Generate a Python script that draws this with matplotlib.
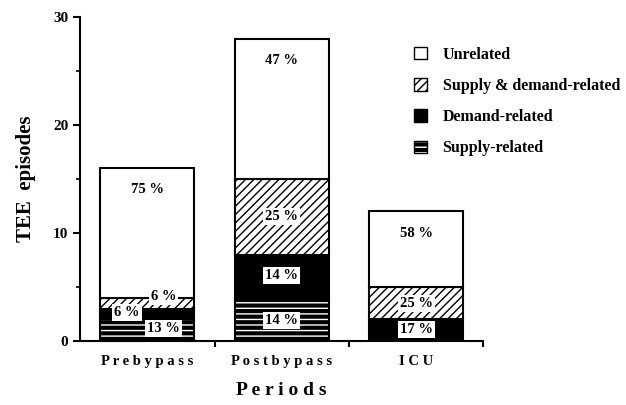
import matplotlib.pyplot as plt
from matplotlib.patches import Patch
from matplotlib.legend_handler import HandlerTuple
import numpy as np

# data (episode counts per period)
periods = ['Prebypass', 'Postbypass', 'ICU']
supply = [2, 4, 0]
demand = [1, 4, 2]
supply_demand = [1, 7, 3]
unrelated = [12, 13, 7]

supply_pct = ['13 %', '14 %', '']
demand_pct = ['6 %', '14 %', '17 %']
supply_demand_pct = ['6 %', '25 %', '25 %']
unrelated_pct = ['75 %', '47 %', '58 %']

plt.rcParams['font.family'] = ['Liberation Serif', 'DejaVu Serif']
plt.rcParams['font.weight'] = 'bold'
plt.rcParams['hatch.linewidth'] = 1.0

fig = plt.figure(figsize=(6.26, 4.05), dpi=100)
ax = fig.add_axes([0.128, 0.158, 0.644, 0.8])

x = np.arange(len(periods)) + 0.5
width = 0.7
box = dict(facecolor='white', edgecolor='none', pad=1.5)

b0 = np.zeros(3)
b1 = b0 + np.array(supply)
b2 = b1 + np.array(demand)
b3 = b2 + np.array(supply_demand)
top = b3 + np.array(unrelated)

# supply-related: black with white dashes
ax.bar(x, supply, width, bottom=b0, color='black', edgecolor='white',
       hatch='---', linewidth=0)
ax.bar(x, supply, width, bottom=b0, color='none', edgecolor='black', linewidth=1.5)
ax.bar(x, demand, width, bottom=b1, color='black', edgecolor='black', linewidth=1.5)
ax.bar(x, supply_demand, width, bottom=b2, color='white', edgecolor='black',
       hatch='////', linewidth=1.5)
ax.bar(x, unrelated, width, bottom=b3, color='white', edgecolor='black', linewidth=1.5)

# percentage labels
fs = 10.5
for i in range(3):
    ax.text(x[i], top[i] - 2, unrelated_pct[i], ha='center', va='center', fontsize=fs)
    if i == 0:
        # small segments: labels pushed sideways like in the paper
        ax.text(x[i] + 0.12, b3[i] + 0.1, supply_demand_pct[i], ha='center',
                va='center', fontsize=fs, bbox=box)
        ax.text(x[i] - 0.15, b2[i] - 0.35, demand_pct[i], ha='center',
                va='center', fontsize=fs, bbox=box)
        ax.text(x[i] + 0.12, b1[i] - 0.85, supply_pct[i], ha='center',
                va='center', fontsize=fs, bbox=box)
    else:
        ax.text(x[i], (b2[i] + b3[i]) / 2, supply_demand_pct[i], ha='center',
                va='center', fontsize=fs, bbox=box)
        ax.text(x[i], (b1[i] + b2[i]) / 2 + 0.1, demand_pct[i], ha='center',
                va='center', fontsize=fs, bbox=box)
        if supply_pct[i]:
            ax.text(x[i], (b0[i] + b1[i]) / 2 - 0.1, supply_pct[i], ha='center',
                    va='center', fontsize=fs, bbox=box)

ax.set_xlim(0, 3)
ax.set_ylim(0, 30)
for s in ['top', 'right']:
    ax.spines[s].set_visible(False)
for s in ['left', 'bottom']:
    ax.spines[s].set_linewidth(1.5)

ax.set_yticks([0, 10, 20, 30])
ax.set_yticks([5, 15, 25], minor=True)
ax.tick_params(axis='y', which='major', length=5, width=1.5, labelsize=11)
ax.tick_params(axis='y', which='minor', length=3, width=1.2)
ax.set_xticks([1, 2, 3])
ax.set_xticklabels([])
ax.tick_params(axis='x', which='major', length=4, width=1.5, direction='out')
for i, p in enumerate(periods):
    ax.text(x[i], -1.3, ' '.join(p), ha='center', va='top', fontsize=10.5)

ax.set_ylabel('TEE  episodes', fontsize=15, fontweight='bold', labelpad=12)
ax.set_xlabel('P e r i o d s', fontsize=14, fontweight='bold', labelpad=22)

handles = [
    Patch(facecolor='white', edgecolor='black'),
    Patch(facecolor='white', edgecolor='black', hatch='////'),
    Patch(facecolor='black', edgecolor='black'),
    (Patch(facecolor='black', edgecolor='white', hatch='---', linewidth=0),
     Patch(facecolor='none', edgecolor='black')),
]
labels = ['Unrelated', 'Supply & demand-related', 'Demand-related', 'Supply-related']
fig.legend(handles, labels, loc='upper left', bbox_to_anchor=(0.638, 0.92),
           frameon=False, fontsize=11.5, handlelength=0.8, handleheight=0.8,
           labelspacing=0.95, handletextpad=1.0,
           handler_map={tuple: HandlerTuple(ndivide=1, pad=0)})

fig.savefig('out.png', dpi=100)
